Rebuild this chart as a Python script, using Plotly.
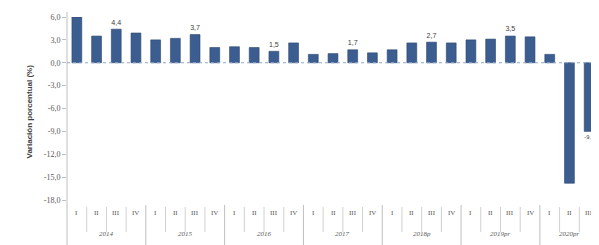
import plotly.graph_objects as go

quarters = ["I", "II", "III", "IV"] * 6 + ["I", "II", "III"]
years = ["2014", "2015", "2016", "2017", "2018p", "2019pr", "2020pr"]
values = [6.0, 3.5, 4.4, 3.9,
          3.0, 3.2, 3.7, 2.0,
          2.1, 2.0, 1.5, 2.6,
          1.1, 1.2, 1.7, 1.3,
          1.7, 2.6, 2.7, 2.6,
          3.0, 3.1, 3.5, 3.4,
          1.1, -15.8, -9.0]
labels = ["", "", "4,4", "",
          "", "", "3,7", "",
          "", "", "1,5", "",
          "", "", "1,7", "",
          "", "", "2,7", "",
          "", "", "3,5", "",
          "", "", "-9,0"]
y_ticks = [6, 3, 0, -3, -6, -9, -12, -15, -18]
y_ticklabels = ["6,0", "3,0", "0,0", "-3,0", "-6,0", "-9,0", "-12,0", "-15,0", "-18,0"]

OFF = 8  # page body margin
W, H = 599 - OFF, 245 - OFF
L, R, T, B = 67 - OFF, 0, 17 - OFF, 45
ph = H - T - B
def py(px_ref):
    return (H - B - (px_ref - OFF)) / ph

x = list(range(len(values)))

lab_font = dict(family="Liberation Sans", size=9, color="#404040")

fig = go.Figure()
fig.add_trace(go.Bar(
    x=x, y=values, width=0.5,
    marker=dict(color="#3C5D8F", line=dict(color="#2B4670", width=0.6)),
    text=labels, textposition="outside", cliponaxis=False,
    textfont=lab_font, outsidetextfont=lab_font,
    hoverinfo="skip",
))

shapes = []
shapes.append(dict(type="line", xref="paper", yref="paper", x0=0, x1=0,
                   y0=py(12), y1=py(245), line=dict(color="#BFBFBF", width=1)))
shapes.append(dict(type="line", xref="paper", yref="y", x0=0, x1=1, y0=0, y1=0,
                   line=dict(color="#8EA9D0", width=1.2, dash="dot")))
for i in range(len(values)):
    xs = i + 0.5
    if (i + 1) % 4 == 0:
        shapes.append(dict(type="line", xref="x", yref="paper", x0=xs, x1=xs,
                           y0=py(205), y1=py(245), line=dict(color="#BFBFBF", width=1)))
    else:
        shapes.append(dict(type="line", xref="x", yref="paper", x0=xs, x1=xs,
                           y0=py(207), y1=py(232), line=dict(color="#D0D0D0", width=1)))

annotations = []
for i, q in enumerate(quarters):
    annotations.append(dict(x=i, y=py(219), xref="x", yref="paper", text=q,
                            showarrow=False, font=dict(family="Liberation Serif", size=7, color="#595959")))
for k, yr in enumerate(years):
    start = 4 * k
    end = min(4 * k + 3, len(values) - 1)
    annotations.append(dict(x=(start + end) / 2, y=py(240), xref="x", yref="paper",
                            text="<i>" + yr + "</i>",
                            showarrow=False, font=dict(family="Liberation Serif", size=7, color="#595959")))
annotations.append(dict(x=(22 - 67) / (W - L - R), y=py(112), xref="paper", yref="paper",
                        text="<b>Variación porcentual (%)</b>", textangle=-90, showarrow=False,
                        font=dict(family="Liberation Sans", size=8, color="#404040")))

fig.update_layout(
    width=W, height=H,
    margin=dict(l=L, r=R, t=T, b=B),
    paper_bgcolor="white", plot_bgcolor="white",
    showlegend=False,
    shapes=shapes, annotations=annotations,
    xaxis=dict(range=[-0.5, 26.5], showticklabels=False, showgrid=False,
               zeroline=False, showline=False, ticks=""),
    yaxis=dict(range=[-18, 6], tickvals=y_ticks, ticktext=y_ticklabels,
               showgrid=False, zeroline=False, showline=False,
               ticks="outside", ticklen=4, tickcolor="#BFBFBF",
               tickfont=dict(family="Liberation Serif", size=8, color="#595959")),
)

fig.write_html("out.html")
